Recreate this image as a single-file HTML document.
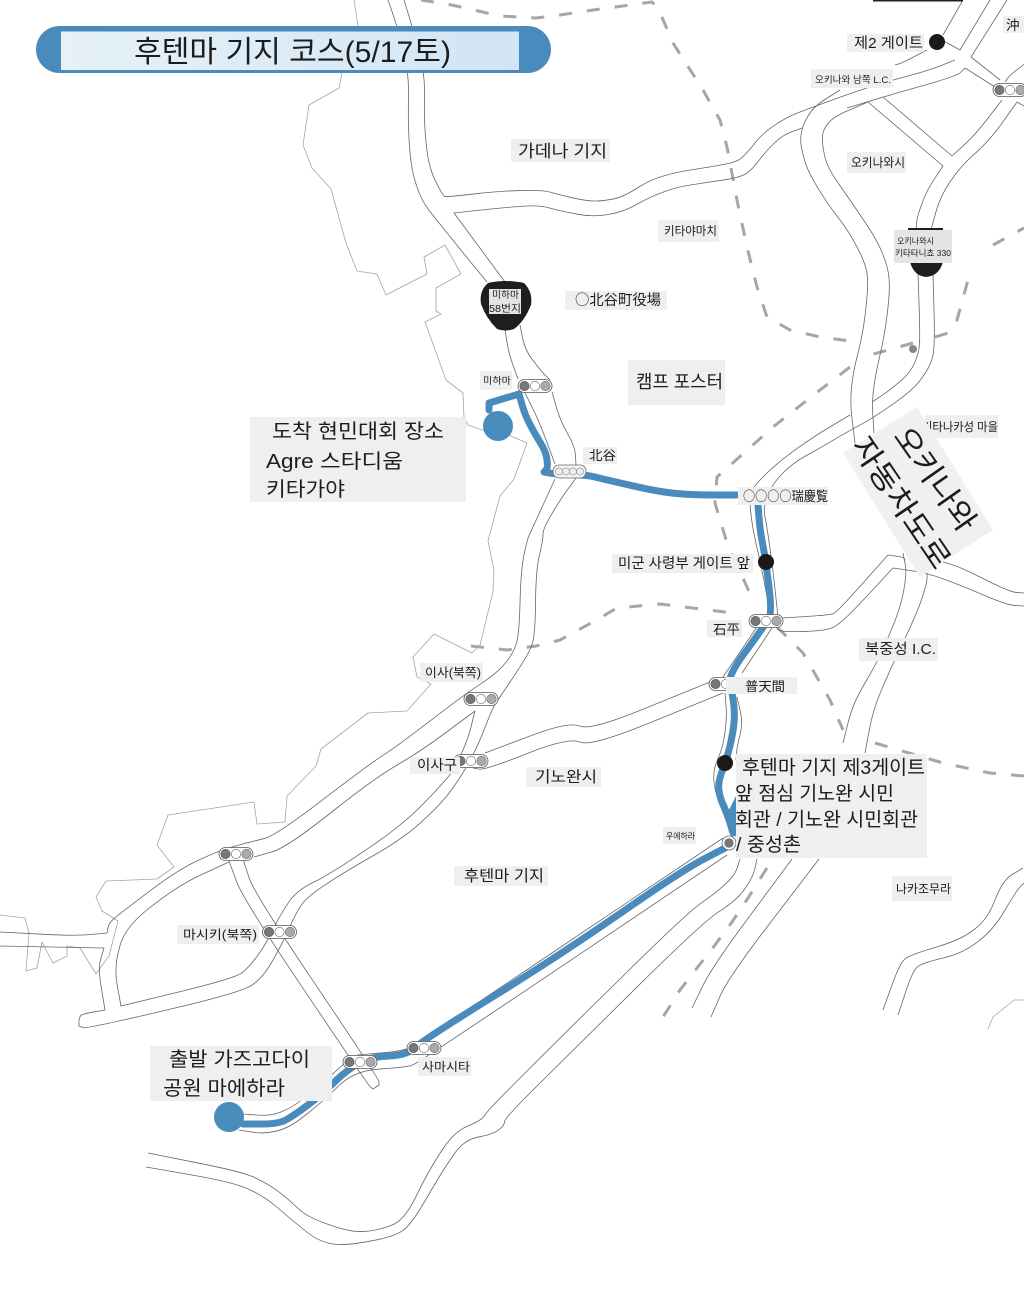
<!DOCTYPE html>
<html lang="ko"><head><meta charset="utf-8"><title>후텐마 기지 코스</title>
<style>
html,body{margin:0;padding:0;background:#fff}
svg{display:block;filter:blur(.3px)}
text{font-family:"Liberation Sans","Noto Sans CJK KR","Noto Sans CJK JP",sans-serif;fill:#1c1c1c}
.j{font-family:"Noto Sans CJK JP","Noto Sans CJK KR",sans-serif}
.r polyline,.r path{fill:none;stroke:#666;stroke-width:.8;stroke-linejoin:round}
.c polyline{fill:none;stroke:#a4a4a4;stroke-width:.8;stroke-linejoin:round}
.d polyline{fill:none;stroke:#a6a6a6;stroke-width:3;stroke-dasharray:13 15}
.l{fill:#efefef}
</style></head><body>
<svg xmlns="http://www.w3.org/2000/svg" width="1024" height="1302" viewBox="0 0 1024 1302">
<defs>
<linearGradient id="g" x1="0" x2="1"><stop offset="0" stop-color="#e6f1f8"/><stop offset="1" stop-color="#d2e5f5"/></linearGradient>
<g id="tl"><rect x="-17" y="-6.5" width="34" height="13" rx="6.5" fill="#fff" stroke="#555" stroke-width=".8"/><circle cx="-10.5" cy="0" r="4.7" fill="#777" stroke="#555" stroke-width=".6"/><circle cx="0" cy="0" r="4.7" fill="#fff" stroke="#666" stroke-width=".6"/><circle cx="10.5" cy="0" r="4.7" fill="#aaa" stroke="#666" stroke-width=".6"/></g>
</defs>

<!-- coast -->
<g class="c">
<polyline points="354,0 358,26 342,73 339,88 309,105 303,145 312,168 331,189 346,243 357,271 377,274 386,295 427,274 424,257 445,245 461,274 436,288 436,311 441,314 425,322 446,380 463,393 464,418 468,425 482,430 511,436 527,443 514,479 500,496 488,541 494,570 493,592 480,645 472,653 434,634 413,657 417,677 431,684 407,711 368,713 321,749 316,766 287,796 285,822 257,824 254,802 168,815 157,845 174,867 157,879 106,881 96,897 102,911 118,921 109,956 96,974 80,948 67,946 67,956 53,963 42,942 37,968 26,971 29,933 25,918 0,915"/>
<polyline points="988,1029 993,1017 1014,1000 1024,1000"/>
</g>

<!-- dashed boundaries -->
<g class="d">
<polyline points="421,0 452,5 500,16 536,18 560,15 593,10 652,2 658,8 673,43 703,90 720,120 727,147 737,200 747,247 757,287 767,317 790,330 820,337 850,341"/>
<polyline points="935,337 948,333 957,320 968,280"/>
<polyline points="993,245 1024,228"/>
<polyline points="850,367 820,390 773,427 717,477 715,503 727,543 752,598"/>
<polyline points="913,343 870,355"/>
<polyline points="471,646 507,650 536,646 560,640 593,622 617,608 660,604 733,613"/>
<polyline points="777,627 803,653 830,700 843,730"/>
<polyline points="875,743 943,763 990,773 1024,776"/>
<polyline points="767,868 748,898 732,922 715,945 697,968 680,990 663,1017"/>
</g>
<circle cx="913" cy="349" r="4" fill="#888"/>

<!-- roads -->
<g class="r">
<polyline points="388,0 397,26 409,73 408,125 411,168 421,200 439,223 464,254 487,282"/>
<polyline points="404,0 412,26 425,73 424,125 429,168 443,196 447,197 500,191 543,190 560,195 587,201 603,201 623,197 650,180 677,172 710,167 737,162 747,153 763,133 787,117 813,107 860,90 893,80 930,70 955,60"/>
<polyline points="505,282 454,213 500,208 539,205 560,211 593,217 623,212 650,197 677,187 710,182 737,178 750,172 767,150 783,135 802,128"/>
<polyline points="847,108 883,97 957,76 965,68"/>
<polyline points="895,65 902,63 927,50"/>
<polyline points="840,90 813,107 802,127 800,143 807,170 827,203 850,233 867,267 868,290 863,333 853,373 850,403 855,443"/>
<polyline points="868,102 833,117 823,130 822,143 827,167 850,200 877,240 888,267 890,290 885,333 875,377 872,403 874,433"/>
<polyline points="868,102 943,166 927,190 917,217 916,230"/>
<polyline points="883,97 952,156 975,135 1002,100"/>
<polyline points="1017,102 990,140 960,167 940,197 931,230"/>
<polyline points="1017,102 1024,106"/>
<polyline points="963,0 943,35"/>
<polyline points="990,0 960,50 942,40"/>
<polyline points="1007,0 971,57 1000,80"/>
<polyline points="965,68 995,87"/>
<polyline points="1026,63 1010,75 1005,82"/>
<polyline points="918,273 920,333 919,353 910,373 890,390 872,402"/>
<polyline points="933,273 935,347 930,367 913,390 873,418 847,432 820,448 793,463 773,483 763,507 767,527 773,570 778,617"/>
<polyline points="850,415 813,437 777,463 750,490 750,507 753,530 762,570 770,613"/>
<polyline points="782,618 830,615 837,612 888,555 903,557 905,560"/>
<polyline points="777,629 783,632 823,631 840,625 893,568 927,573 960,585 1007,605 1024,606"/>
<polyline points="943,562 960,567 1010,592 1024,593"/>
<polyline points="903,553 907,573 900,610 877,663 853,703 843,743"/>
<polyline points="927,573 927,583 917,613 890,670 873,710 865,753"/>
<polyline points="792,859 712,967 692,1008"/>
<polyline points="819,859 728,978 711,1017"/>
<polyline points="757,627 723,677"/>
<polyline points="772,628 742,673"/>
<polyline points="725,693 727,717 723,747 713,770 715,793 730,830"/>
<polyline points="737,697 743,723 737,747 736,760"/>
<polyline points="710,682 592,730 567,722 485,753"/>
<polyline points="723,693 593,746 567,738 485,770 473,768"/>
<polyline points="505,330 509,354 518,379"/>
<polyline points="520,325 525,350 541,371 550,380"/>
<polyline points="525,393 539,421 555,464"/>
<polyline points="552,392 560,420 575,447 576,465"/>
<polyline points="555,479 532,529 527,540 521,570 519,637 512,655 497,673 464,695 396,747 371,763 275,836 250,842 221,850 179,869 118,915 109,923 107,933 75,936 0,932"/>
<polyline points="576,478 560,500 543,529 543,540 536,570 535,637 528,655 500,697 493,707 479,743 464,772 443,802 404,838 343,873 307,897 296,913 282,944 264,976 243,992 86,1029 79,1026 79,1018 82,1014 105,1010 98,968 104,948 0,946"/>
<polyline points="475,711 421,751 375,778 286,848 254,857"/>
<polyline points="475,711 468,739 457,763 450,776 404,824 332,873 296,891 279,917 266,944 250,966 236,978 121,1006 114,968 125,927 179,885 229,862"/>
<polyline points="229,861 243,899 368,1085 373,1089 379,1085 379,1079 254,893 243,859"/>
<polyline points="243,1114 271,1116 293,1107 318,1087 345,1063"/>
<polyline points="357,1055 404,1051 418,1043 723,838"/>
<polyline points="239,1130 264,1134 289,1128 321,1103 354,1071 407,1067 418,1063 727,855"/>
<polyline points="740,859 735,875 717,892 687,913 560,1038 488,1110 482,1120 454,1132 429,1170 404,1221 375,1231 350,1232 307,1217 286,1197 268,1184 243,1172 148,1153"/>
<polyline points="757,859 753,877 737,900 703,922 560,1063 505,1118 504,1126 493,1134 464,1140 443,1170 411,1225 393,1237 343,1246 318,1241 293,1221 264,1196 232,1182 146,1167"/>
<polyline points="883,1010 900,963 910,955 960,940 987,920 1003,880 1023,868"/>
<polyline points="898,1015 913,970 923,963 963,953 993,930 1017,890 1024,883"/>
</g>
<rect x="873" y="0" width="90" height="1.5" fill="#222"/>

<!-- route -->
<g class="s" fill="none" stroke="#4a8bbd" stroke-width="7" stroke-linejoin="round" stroke-linecap="round">
<polyline points="489,410 489,403 519,394 525,415 535,434 546,452 548,468 544,472 555,474 587,475 607,480 660,492 693,495 737,495"/>
<polyline points="758,505 760,530 766,562 772,613 765,625 727,677 733,695 735,720 730,747 725,763 718,783 720,798 727,813 733,833"/>
<polyline points="727,847 683,870 560,955 425,1039 407,1055 371,1057 348,1069 321,1095 296,1114 279,1124 243,1124"/>
</g>
<polygon points="736,796 728,812 736,838" fill="#4a8bbd"/>
<circle cx="498" cy="426" r="15" fill="#4a8bbd"/>
<circle cx="229" cy="1117" r="15" fill="#4a8bbd"/>

<!-- shields -->
<path d="M488,283 Q505,279 524,283 Q533,292 531,305 Q524,322 514,329 Q505,332 497,329 Q486,318 481,304 Q479,291 488,283Z" fill="#1e1e1e"/>
<path d="M908,228 H943 V262 Q939,276 926,277 Q914,276 910,262Z" fill="#1e1e1e"/>

<!-- traffic lights -->
<use href="#tl" x="535" y="386"/>
<use href="#tl" x="766" y="621"/>
<use href="#tl" x="481" y="699"/>
<use href="#tl" x="471" y="761"/>
<use href="#tl" x="236" y="854"/>
<use href="#tl" x="279.500" y="932"/>
<use href="#tl" x="360" y="1062"/>
<use href="#tl" x="424" y="1048"/>
<use href="#tl" x="1010" y="90"/>
<use href="#tl" x="726" y="684"/>
<g><rect x="553" y="465" width="33" height="13" rx="6" fill="#f4f4f4" stroke="#666" stroke-width=".8"/>
<g fill="#eee" stroke="#888" stroke-width=".6"><circle cx="559" cy="471.500" r="3.600"/><circle cx="566" cy="471.500" r="3.600"/><circle cx="573" cy="471.500" r="3.600"/><circle cx="580" cy="471.500" r="3.600"/></g></g>
<circle cx="729" cy="843" r="7" fill="#fff" stroke="#666" stroke-width=".8"/><circle cx="729" cy="843" r="4.700" fill="#777"/>

<!-- black dots -->
<circle cx="937" cy="42" r="8" fill="#1a1a1a"/>
<circle cx="766" cy="562" r="8" fill="#1a1a1a"/>
<circle cx="725" cy="763" r="8" fill="#1a1a1a"/>

<!-- title -->
<rect x="36" y="26" width="515" height="47" rx="23.500" fill="#4a8bbd"/>
<rect x="61" y="31.500" width="458" height="38.500" fill="url(#g)"/>
<text x="134" y="62" font-size="30" textLength="317" lengthAdjust="spacingAndGlyphs">후텐마 기지 코스(5/17토)</text>

<!-- labels -->
<rect class="l" x="511" y="139" width="99" height="23"/><text x="518" y="157" font-size="17" textLength="89" lengthAdjust="spacingAndGlyphs">가데나 기지</text>
<rect class="l" x="658" y="220" width="61" height="22"/><text x="664" y="235" font-size="12" textLength="53" lengthAdjust="spacingAndGlyphs">키타야마치</text>
<rect class="l" x="565" y="291" width="102" height="19"/><text class="j" x="575" y="305" font-size="14.500" textLength="86" lengthAdjust="spacingAndGlyphs">○北谷町役場</text>
<rect class="l" x="628" y="360" width="97" height="45"/><text x="636" y="388" font-size="18" textLength="87" lengthAdjust="spacingAndGlyphs">캠프 포스터</text>
<rect class="l" x="583" y="447" width="34" height="17"/><text class="j" x="589" y="460" font-size="13" textLength="27" lengthAdjust="spacingAndGlyphs">北谷</text>
<rect class="l" x="847" y="34" width="77" height="18"/><text x="854" y="48" font-size="14.500" textLength="69" lengthAdjust="spacingAndGlyphs">제2 게이트</text>
<rect class="l" x="1003" y="16" width="21" height="17"/><text class="j" x="1006" y="30" font-size="13.500">沖</text>
<rect class="l" x="811" y="69" width="82" height="19"/><text x="815" y="83" font-size="9.500" textLength="76" lengthAdjust="spacingAndGlyphs">오키나와 남쪽 L.C.</text>
<rect class="l" x="847" y="152" width="59" height="21"/><text x="851" y="167" font-size="12.500" textLength="54" lengthAdjust="spacingAndGlyphs">오키나와시</text>
<rect x="894" y="230" width="58" height="33" fill="#e4e4e4"/>
<text x="897" y="244" font-size="8.500" textLength="37" lengthAdjust="spacingAndGlyphs">오키나와시</text>
<text x="895" y="256" font-size="8.500" textLength="56" lengthAdjust="spacingAndGlyphs">키타타니쵸 330</text>
<rect x="489" y="289" width="32" height="25" fill="#e4e4e4"/>
<text x="492" y="298" font-size="9.500" textLength="27" lengthAdjust="spacingAndGlyphs">미하마</text>
<text x="489" y="312" font-size="10" textLength="32" lengthAdjust="spacingAndGlyphs">58번지</text>
<rect class="l" x="480" y="371" width="32" height="19"/><text x="483" y="384" font-size="9.500" textLength="28" lengthAdjust="spacingAndGlyphs">미하마</text>
<rect class="l" x="250" y="417" width="216" height="85"/>
<text x="272" y="438" font-size="20" textLength="172" lengthAdjust="spacingAndGlyphs">도착 현민대회 장소</text>
<text x="266" y="468" font-size="20" textLength="137" lengthAdjust="spacingAndGlyphs">Agre 스타디움</text>
<text x="266" y="496" font-size="20" textLength="79" lengthAdjust="spacingAndGlyphs">키타가야</text>
<rect class="l" x="925" y="415" width="73" height="23"/><text x="922" y="431" font-size="12" textLength="76" lengthAdjust="spacingAndGlyphs">키타나카성 마을</text>
<rect class="l" x="738" y="487" width="90" height="18"/><text class="j" x="743" y="501" font-size="13.500" textLength="85" lengthAdjust="spacingAndGlyphs">○○○○瑞慶覧</text>
<rect class="l" x="612" y="554" width="141" height="19"/><text x="618" y="568" font-size="14" textLength="132" lengthAdjust="spacingAndGlyphs">미군 사령부 게이트 앞</text>
<rect class="l" x="707" y="620" width="35" height="17"/><text class="j" x="713" y="634" font-size="13" textLength="27" lengthAdjust="spacingAndGlyphs">石平</text>
<rect class="l" x="726" y="677" width="71" height="17"/><text class="j" x="745" y="691" font-size="13" textLength="40" lengthAdjust="spacingAndGlyphs">普天間</text>
<rect class="l" x="859" y="638" width="79" height="23"/><text x="865" y="654" font-size="14.500" textLength="71" lengthAdjust="spacingAndGlyphs">북중성 I.C.</text>
<rect class="l" x="526" y="767" width="75" height="20"/><text x="535" y="782" font-size="15.500" textLength="62" lengthAdjust="spacingAndGlyphs">기노완시</text>
<rect class="l" x="420" y="663" width="63" height="19"/><text x="425" y="677" font-size="12.500" textLength="56" lengthAdjust="spacingAndGlyphs">이사(북쪽)</text>
<rect class="l" x="410" y="757" width="50" height="17"/><text x="417" y="770" font-size="14" textLength="40" lengthAdjust="spacingAndGlyphs">이사구</text>
<rect class="l" x="454" y="866" width="94" height="20"/><text x="464" y="881" font-size="15.500" textLength="80" lengthAdjust="spacingAndGlyphs">후텐마 기지</text>
<rect class="l" x="177" y="925" width="82" height="19"/><text x="183" y="939" font-size="12.500" textLength="74" lengthAdjust="spacingAndGlyphs">마시키(북쪽)</text>
<rect class="l" x="418" y="1057" width="53" height="19"/><text x="422" y="1071" font-size="12" textLength="48" lengthAdjust="spacingAndGlyphs">사마시타</text>
<rect class="l" x="150" y="1046" width="182" height="55"/>
<text x="169" y="1066" font-size="20" textLength="141" lengthAdjust="spacingAndGlyphs">출발 가즈고다이</text>
<text x="163" y="1095" font-size="20" textLength="122" lengthAdjust="spacingAndGlyphs">공원 마에하라</text>
<rect class="l" x="736" y="754" width="191" height="104"/>
<text x="742" y="774" font-size="19.500" textLength="183" lengthAdjust="spacingAndGlyphs">후텐마 기지 제3게이트</text>
<text x="735" y="800" font-size="19.500" textLength="159" lengthAdjust="spacingAndGlyphs">앞 점심 기노완 시민</text>
<text x="735" y="826" font-size="19.500" textLength="183" lengthAdjust="spacingAndGlyphs">회관 / 기노완 시민회관</text>
<text x="736" y="851" font-size="19.500" textLength="65" lengthAdjust="spacingAndGlyphs">/ 중성촌</text>
<rect class="l" x="663" y="827" width="33" height="17"/><text x="666" y="839" font-size="8.500" textLength="29" lengthAdjust="spacingAndGlyphs">우에하라</text>
<rect class="l" x="892" y="876" width="60" height="25"/><text x="896" y="893" font-size="12" textLength="55" lengthAdjust="spacingAndGlyphs">나카조무라</text>

<!-- expressway rotated label -->
<polygon points="917,407 993,530 920,577 843,453" fill="#f0f0f0"/>
<text transform="translate(935 479.500) rotate(55)" x="0" y="10" text-anchor="middle" font-size="30" textLength="120" lengthAdjust="spacingAndGlyphs">오키나와</text>
<text transform="translate(901 503) rotate(56)" x="0" y="10" text-anchor="middle" font-size="30" textLength="152" lengthAdjust="spacingAndGlyphs">자동차도로</text>
</svg>
<script>
document.querySelectorAll('.r polyline,.s polyline').forEach(function(p){
  var n=p.getAttribute('points').trim().split(/\s+/).map(function(s){return s.split(',').map(Number)});
  var d='M'+n[0];
  for(var i=1;i<n.length-1;i++){
    var a=n[i-1],c=n[i],b=n[i+1];
    var ux=c[0]-a[0],uy=c[1]-a[1],vx=b[0]-c[0],vy=b[1]-c[1];
    var t=Math.abs(Math.atan2(ux*vy-uy*vx,ux*vx+uy*vy))*180/Math.PI;
    if(t>55){d+=' L'+c}else{
      var f=.45;
      d+=' L'+(c[0]-ux*f)+','+(c[1]-uy*f)+' Q'+c+' '+(c[0]+vx*f)+','+(c[1]+vy*f);
    }
  }
  d+=' L'+n[n.length-1];
  var q=document.createElementNS('http://www.w3.org/2000/svg','path');
  q.setAttribute('d',d);
  p.parentNode.replaceChild(q,p);
});
</script>
</body></html>
